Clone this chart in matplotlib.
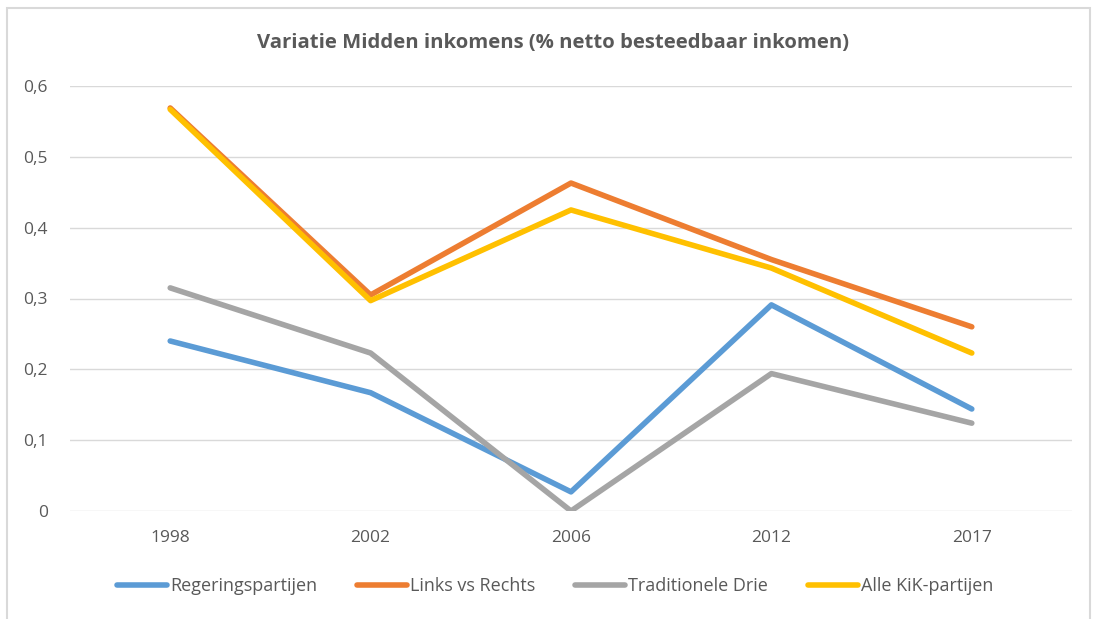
import matplotlib.pyplot as plt
from matplotlib.patches import Rectangle

jaren = ['1998', '2002', '2006', '2012', '2017']
regeringspartijen = [0.240, 0.167, 0.027, 0.291, 0.144]
links_vs_rechts = [0.569, 0.305, 0.463, 0.355, 0.260]
traditionele_drie = [0.315, 0.223, 0.0, 0.194, 0.124]
alle_kik = [0.567, 0.297, 0.425, 0.343, 0.223]

reeksen = [
    ('Regeringspartijen', regeringspartijen, '#5B9BD5'),
    ('Links vs Rechts', links_vs_rechts, '#ED7D31'),
    ('Traditionele Drie', traditionele_drie, '#A5A5A5'),
    ('Alle KiK-partijen', alle_kik, '#FFC000'),
]

plt.rcParams['font.family'] = ['Open Sans', 'DejaVu Sans']
tekstkleur = '#595959'

fig = plt.figure(figsize=(10.96, 6.19), dpi=100)
# rand om de grafiek
fig.patches.append(Rectangle((7 / 1096, -0.01), 1083 / 1096, 1 - 8 / 619 + 0.01,
                             transform=fig.transFigure, fill=False,
                             edgecolor='#D9D9D9', linewidth=1.5))

ax = fig.add_axes([70 / 1096, 1 - 511 / 619, 1002 / 1096, 425 / 619])
x = range(len(jaren))
for naam, waarden, kleur in reeksen:
    ax.plot(x, waarden, color=kleur, linewidth=4, label=naam, solid_capstyle='round')

ax.set_xlim(-0.5, len(jaren) - 0.5)
ax.set_ylim(0, 0.6)
ax.set_yticks([0, 0.1, 0.2, 0.3, 0.4, 0.5, 0.6])
ax.set_yticklabels(['0', '0,1', '0,2', '0,3', '0,4', '0,5', '0,6'])
ax.set_xticks(list(x))
ax.set_xticklabels(jaren)
ax.tick_params(length=0, labelsize=12.5, colors=tekstkleur, pad=14)
ax.tick_params(axis='y', pad=16)
ax.grid(axis='y', color='#D9D9D9', linewidth=1)
ax.set_axisbelow(True)
for s in ax.spines.values():
    s.set_visible(False)

fig.text(553 / 1096, 1 - 43 / 619, 'Variatie Midden inkomens (% netto besteedbaar inkomen)',
         ha='center', va='center', fontsize=14.6, fontweight='bold', color=tekstkleur)

fig.legend(loc='center', bbox_to_anchor=(555 / 1096, 1 - 586 / 619), ncol=4,
           frameon=False, fontsize=13, labelcolor=tekstkleur, handlelength=2.8,
           handletextpad=0.15, columnspacing=2.2)

fig.savefig('out.png', dpi=100)
